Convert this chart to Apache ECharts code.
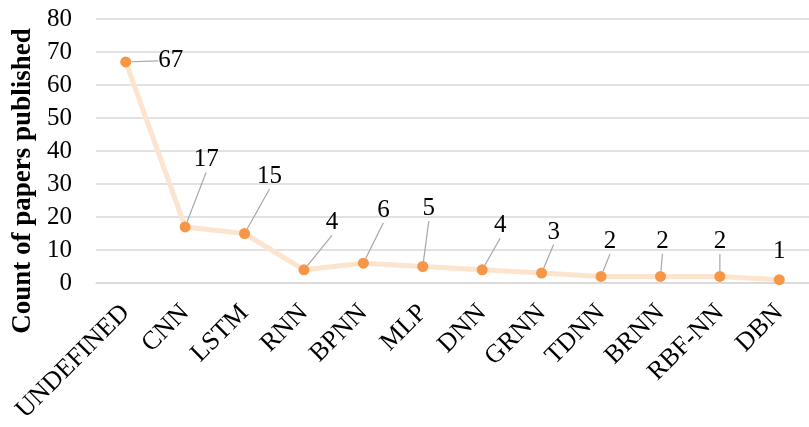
<!DOCTYPE html>
<html>
<head>
<meta charset="utf-8">
<script src="https://cdn.jsdelivr.net/npm/echarts@6/dist/echarts.min.js"></script>
<style>
  html, body { margin: 0; padding: 0; background: #ffffff; }
  #chart { width: 809px; height: 427px; }
</style>
</head>
<body>
<div id="chart"></div>
<script>
// Neural network types and how many papers used each
const categories = ['UNDEFINED', 'CNN', 'LSTM', 'RNN', 'BPNN', 'MLP', 'DNN', 'GRNN', 'TDNN', 'BRNN', 'RBF-NN', 'DBN'];
const paperCounts = [67, 17, 15, 4, 6, 5, 4, 3, 2, 2, 2, 1];

// Value axis range
const yMin = 0;
const yMax = 80;
const yStep = 10;

// Where each value label sits, relative to its default spot above the point
const labelShift = [
  [45, 22], [21, -44], [25, -34], [28, -24], [20, -30], [6, -35],
  [18, -21], [12, -18], [9, -12], [2, -12], [0, -12], [0, -5]
];

const serif = '"Liberation Serif", "Times New Roman", serif';

const chart = echarts.init(document.getElementById('chart'), null, { renderer: 'canvas' });

chart.setOption({
  backgroundColor: '#ffffff',
  animation: false,
  grid: { left: 96, right: -3, top: 19, bottom: 144, containLabel: false },
  xAxis: {
    type: 'category',
    data: categories,
    boundaryGap: true,
    axisLine: { show: true, lineStyle: { color: '#d9d9d9', width: 1.5 } },
    axisTick: { show: false },
    axisLabel: {
      rotate: 45,
      interval: 0,
      margin: 26,
      padding: [16, 0, 0, 0],
      color: '#000000',
      fontFamily: serif,
      fontSize: 26
    }
  },
  yAxis: {
    type: 'value',
    min: yMin,
    max: yMax,
    interval: yStep,
    name: 'Count of papers published',
    nameLocation: 'middle',
    nameGap: 58,
    nameTextStyle: {
      fontFamily: serif,
      fontSize: 27,
      fontWeight: 'bold',
      color: '#000000',
      padding: [0, 60, 0, 0]
    },
    axisLine: { show: false },
    axisTick: { show: false },
    splitLine: { lineStyle: { color: '#d9d9d9', width: 1.5 } },
    axisLabel: {
      margin: 24,
      color: '#000000',
      fontFamily: serif,
      fontSize: 25
    }
  },
  series: [{
    type: 'line',
    data: paperCounts.map((v, i) => ({
      value: v,
      labelLine: { show: i !== paperCounts.length - 1 }
    })),
    symbol: 'circle',
    symbolSize: 11,
    itemStyle: { color: '#f79646' },
    lineStyle: { color: '#fde4cf', width: 5 },
    label: {
      show: true,
      position: 'top',
      distance: 5,
      color: '#000000',
      fontFamily: serif,
      fontSize: 25
    },
    labelLine: {
      show: true,
      lineStyle: { color: '#a6a6a6', width: 1.2 }
    },
    labelLayout: (params) => ({
      dx: labelShift[params.dataIndex][0],
      dy: labelShift[params.dataIndex][1]
    })
  }]
});
</script>
</body>
</html>
